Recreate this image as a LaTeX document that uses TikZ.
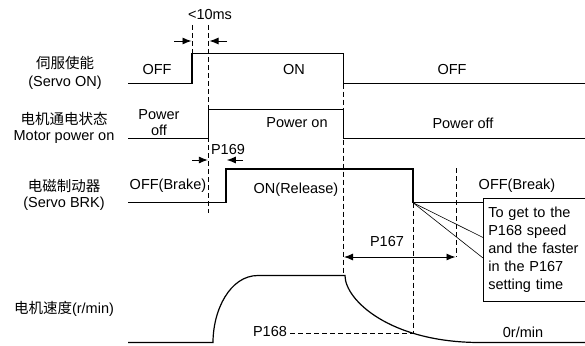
\documentclass[tikz,border=0pt]{standalone}
\usepackage{fontspec}
\setmainfont{Liberation Sans}
\newfontfamily\cjk{Noto Sans CJK SC}
\usetikzlibrary{arrows.meta}
\tikzset{
  sig/.style={line width=1.2pt, line join=miter},
  dsh/.style={line width=0.7pt, dash pattern=on 5pt off 3pt},
  thinl/.style={line width=0.6pt},
  arr/.style={line width=0.9pt, -{Latex[length=9pt,width=7pt]}},
  darr/.style={line width=0.9pt, {Latex[length=9pt,width=7pt]}-{Latex[length=9pt,width=7pt]}},
  txt/.style={inner sep=0pt, font=\fontsize{14.5}{16.2}\selectfont},
}
\begin{document}
\begin{tikzpicture}[x=1pt,y=-1pt]
\useasboundingbox (0,0) rectangle (585,345);
\clip (0,0) rectangle (585,345);

% left labels
\node[txt] (l1a) at (65,63) {\cjk 伺服使能};
\node[txt] (l1b) at (65,83) {(Servo ON)};
\node[txt] (l2a) at (64,119) {\cjk 电机通电状态};
\node[txt] (l2b) at (64,137) {Motor power on};
\node[txt] (l3a) at (64,186) {\cjk 电磁制动器};
\node[txt] (l3b) at (64,204) {(Servo BRK)};
\node[txt] (l4) at (64,309) {{\cjk 电机速度}(r/min)};

% signals
\draw[sig] (128,83.7) -- (192,83.7) -- (192,53.3) -- (343.5,53.3) -- (343.5,83.7) -- (585,83.7);
\draw[sig] (128,138.3) -- (208.7,138.3) -- (208.7,109.3) -- (343.5,109.3) -- (343.5,138.5) -- (585,138.5);
\draw[sig] (128,202.7) -- (226,202.7) -- (226,169) -- (413,169) -- (413,202.7) -- (483,202.7);
\draw[sig] (128,342.5) -- (213,342.5) .. controls (213,310) and (230,275.5) .. (258,275.5)
  -- (345,275.5) .. controls (345,300) and (390,342.5) .. (480,342.5) -- (585,342.5);

% dashed guides
\draw[dsh] (192,25) -- (192,53.3);
\draw[dsh] (208.7,25) -- (208.7,213);
\draw[dsh] (343.5,83.7) -- (343.5,275.5);
\draw[dsh] (413,202.7) -- (413,333);
\draw[dsh] (456,168) -- (456,257);
\draw[dsh] (290,333) -- (413,333);

% timing arrows
\coordinate (a1s) at (174,41);   \coordinate (a1e) at (191.5,41);
\coordinate (a2s) at (227,41);   \coordinate (a2e) at (209.5,41);
\coordinate (b1s) at (192,160);  \coordinate (b1e) at (207.8,160);
\coordinate (b2s) at (243,160);  \coordinate (b2e) at (226.8,160);
\coordinate (c1) at (344,257);   \coordinate (c2) at (455.5,257);
\draw[arr] (a1s) -- (a1e);
\draw[arr] (a2s) -- (a2e);
\draw[arr] (b1s) -- (b1e);
\draw[arr] (b2s) -- (b2e);
\draw[darr] (c1) -- (c2);

% texts
\node[txt] (t10) at (210,15) {<10ms};
\node[txt] (off1) at (157,70) {OFF};
\node[txt] (on1) at (294,70) {ON};
\node[txt] (off2) at (452,70) {OFF};
\node[txt, align=center] (poff1) at (159,122.5) {Power\\off};
\node[txt] (pon) at (297,123) {Power on};
\node[txt] (poff2) at (463,123) {Power off};
\node[txt] (p169) at (228,150) {P169};
\node[txt] (offb) at (168,186) {OFF(Brake)};
\node[txt] (onr) at (296,190) {ON(Release)};
\node[txt] (offk) at (517,186) {OFF(Break)};
\node[txt] (p167) at (387,242) {P167};
\node[txt] (p168) at (270,332) {P168};
\node[txt] (zero) at (523,332) {0r/min};

% callout
\node[thinl, draw, anchor=north west, minimum height=103pt, minimum width=110pt,
      text width=100pt, inner xsep=4pt, inner ysep=0pt, align=left,
      font=\fontsize{14.5}{18}\selectfont] (note) at (483,198)
  {To get to the\\P168 speed\\and the faster\\in the P167\\setting time};
\coordinate (brk) at (413,202.7);
\coordinate (n1) at (483,237.5);
\coordinate (n2) at (483,258);
\draw[thinl] (brk) -- (n1);
\draw[thinl] (brk) -- (n2);
\end{tikzpicture}
\end{document}
